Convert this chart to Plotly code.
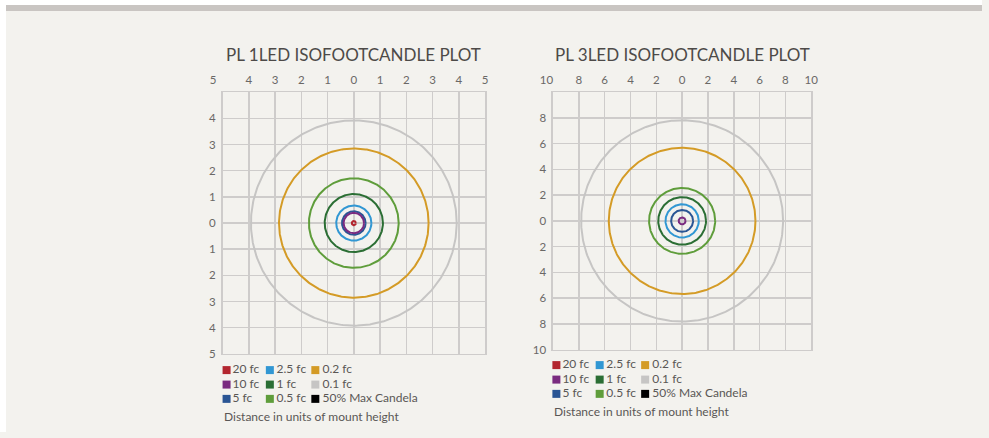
import numpy as np
import plotly.graph_objects as go

W, H = 989, 438
# the photographed area is slightly larger than the page; pre-compensate positions
SX, SY = 995.5 / 989, 443.6 / 438

# ---------------- data ----------------
levels = ["20 fc", "10 fc", "5 fc", "2.5 fc", "1 fc", "0.5 fc", "0.2 fc", "0.1 fc", "50% Max Candela"]
colors = ["#b3262f", "#7a2b80", "#2a5594", "#3197d3", "#2b6e34", "#5f9d3b", "#d49b26", "#c6c5c4", "#000000"]
radii_1led = [0.08, 0.39, 0.45, 0.67, 1.11, 1.71, 2.85, 3.92, None]
radii_3led = [None, 0.27, 0.85, 1.29, 1.85, 2.56, 5.68, 7.82, None]
ticks_1led = [-5, -4, -3, -2, -1, 0, 1, 2, 3, 4, 5]
ticks_3led = [-10, -8, -6, -4, -2, 0, 2, 4, 6, 8, 10]
titles = ["PL 1LED ISOFOOTCANDLE PLOT", "PL 3LED ISOFOOTCANDLE PLOT"]
footer = "Distance in units of mount height"

# ---------------- layout constants (pixels, in reference coordinates) ----------------
FONT = "Lato"
GRID = "#cecccb"
BG = "#f3f2ee"
BAND = "#c9c5c2"
TICKC = "#6a6866"
TEXTC = "#4d4a48"

def px(x):
    return x * SX / W

def py(y):
    return 1 - y * SY / H

panels = [
    dict(radii=radii_1led, ticks=ticks_1led, left=222.7, right=485.3, top=92.3, bottom=354.3,
         corner_x=213.3, lab_left=200.0, leg_dx=0.0, leg_dy=0.0, title=titles[0]),
    dict(radii=radii_3led, ticks=ticks_3led, left=553.3, right=811.7, top=92.3, bottom=350.0,
         corner_x=546.7, lab_left=530.0, leg_dx=330.0, leg_dy=-5.0, title=titles[1]),
]

fig = go.Figure()
layout = dict(
    width=W, height=H, autosize=False,
    margin=dict(l=0, r=0, t=0, b=0),
    paper_bgcolor=BG, plot_bgcolor="rgba(0,0,0,0)",
    showlegend=False,
    font=dict(family=FONT, color=TICKC, size=11),
    shapes=[
        dict(type="rect", xref="paper", yref="paper", x0=0, x1=px(6), y0=0, y1=1,
             fillcolor="white", line_width=0, layer="below"),
        dict(type="rect", xref="paper", yref="paper", x0=0, x1=1, y0=py(5), y1=1,
             fillcolor="white", line_width=0, layer="below"),
        dict(type="rect", xref="paper", yref="paper", x0=px(6), x1=1, y0=py(11), y1=py(5),
             fillcolor=BAND, line_width=0, layer="below"),
    ],
    annotations=[],
)

theta = np.linspace(0, 2 * np.pi, 361)

for k, p in enumerate(panels):
    ticks = p["ticks"]
    lo, hi = ticks[0], ticks[-1]
    xa = "x" if k == 0 else "x2"
    ya = "y" if k == 0 else "y2"
    xa_lab = f"x{3 + k}"
    ya_lab = f"y{3 + k}"
    xdom = [px(p["left"]), px(p["right"])]
    ydom = [py(p["bottom"]), py(p["top"])]

    # circles, largest first
    order = sorted([i for i, r in enumerate(p["radii"]) if r is not None],
                   key=lambda i: -p["radii"][i])
    for i in order:
        r = p["radii"][i]
        fig.add_trace(go.Scatter(
            x=r * np.cos(theta), y=r * np.sin(theta), mode="lines",
            line=dict(color=colors[i], width=2), name=levels[i],
            xaxis=xa, yaxis=ya, hoverinfo="skip"))

    grid_axis = dict(range=[lo, hi], tickvals=ticks, showgrid=True, gridcolor=GRID,
                     gridwidth=1.5, zeroline=False, showline=True, linecolor=GRID,
                     linewidth=1.5, mirror=True, fixedrange=True)
    layout["xaxis" if k == 0 else "xaxis2"] = dict(grid_axis, domain=xdom, anchor=ya,
                                                   showticklabels=False)
    layout["yaxis" if k == 0 else "yaxis2"] = dict(
        grid_axis, domain=ydom, anchor=xa, showticklabels=True,
        ticktext=[str(abs(t)) if t != hi else "" for t in ticks],
        ticks="outside", ticklen=3, tickcolor="rgba(0,0,0,0)",
        tickfont=dict(family=FONT, size=11.5, color=TICKC))

    # label axis on top (corner label aligned with y label column)
    scale = (p["right"] - p["left"]) / (hi - lo)
    r0 = lo - (p["left"] - p["lab_left"]) / scale
    corner = lo - (p["left"] - p["corner_x"]) / scale
    tv = [corner] + ticks[1:]
    layout[f"xaxis{3 + k}"] = dict(
        domain=[px(p["lab_left"]), px(p["right"])], range=[r0, hi], anchor=ya_lab,
        side="top", tickvals=tv, ticktext=[str(abs(t)) for t in ticks],
        showgrid=False, zeroline=False, showline=False,
        ticks="outside", ticklen=3, tickcolor="rgba(0,0,0,0)",
        tickfont=dict(family=FONT, size=11.5, color=TICKC), fixedrange=True)
    layout[f"yaxis{3 + k}"] = dict(domain=ydom, range=[lo, hi], visible=False,
                                   anchor=xa_lab, fixedrange=True)
    fig.add_trace(go.Scatter(x=[None], y=[None], xaxis=xa_lab, yaxis=ya_lab,
                             mode="markers", hoverinfo="skip"))

    # title
    layout["annotations"].append(dict(
        text=p["title"], xref="paper", yref="paper",
        x=(xdom[0] + xdom[1]) / 2, y=py(55), xanchor="center", yanchor="middle",
        showarrow=False, font=dict(family=FONT, size=17, color=TEXTC)))

    # legend (custom grid of squares + labels, on a pixel overlay axis)
    col_sq = [226.7, 270.0, 315.5]
    col_tx = [232.7, 276.7, 322.7]
    rows = [370.5, 385.0, 399.3]
    sx, sy, tx, ty = [], [], [], []
    for i, lab in enumerate(levels):
        c, rr = i // 3, i % 3
        sx.append((col_sq[c] + p["leg_dx"]) * SX)
        sy.append((rows[rr] + p["leg_dy"]) * SY)
        tx.append((col_tx[c] + p["leg_dx"]) * SX)
        ty.append((rows[rr] + p["leg_dy"]) * SY)
    fig.add_trace(go.Scatter(x=sx, y=sy, mode="markers", xaxis="x5", yaxis="y5",
                             marker=dict(symbol="square", size=8, color=colors,
                                         line=dict(width=0)),
                             hoverinfo="skip"))
    fig.add_trace(go.Scatter(x=tx, y=ty, mode="text", text=levels, xaxis="x5", yaxis="y5",
                             textposition="middle right",
                             textfont=dict(family=FONT, size=12, color="#5a5755"),
                             hoverinfo="skip"))
    layout["annotations"].append(dict(
        text=footer, xref="paper", yref="paper",
        x=px(222.0 + p["leg_dx"]), y=py(416.7 + p["leg_dy"]), xanchor="left",
        yanchor="middle", showarrow=False,
        font=dict(family=FONT, size=12, color="#5a5755")))

layout["xaxis5"] = dict(domain=[0, 1], range=[0, W], visible=False, anchor="y5", fixedrange=True)
layout["yaxis5"] = dict(domain=[0, 1], range=[H, 0], visible=False, anchor="x5", fixedrange=True)

fig.update_layout(**layout)
fig.write_html(
    "out.html",
    config={"displayModeBar": False, "staticPlot": True},
    post_script=(
        "var s=document.documentElement.style, b=document.body.style;"
        "s.margin='0';s.padding='0';s.overflow='hidden';s.background='%s';"
        "b.margin='0';b.padding='0';b.overflow='hidden';b.background='%s';" % (BG, BG)
    ),
)
